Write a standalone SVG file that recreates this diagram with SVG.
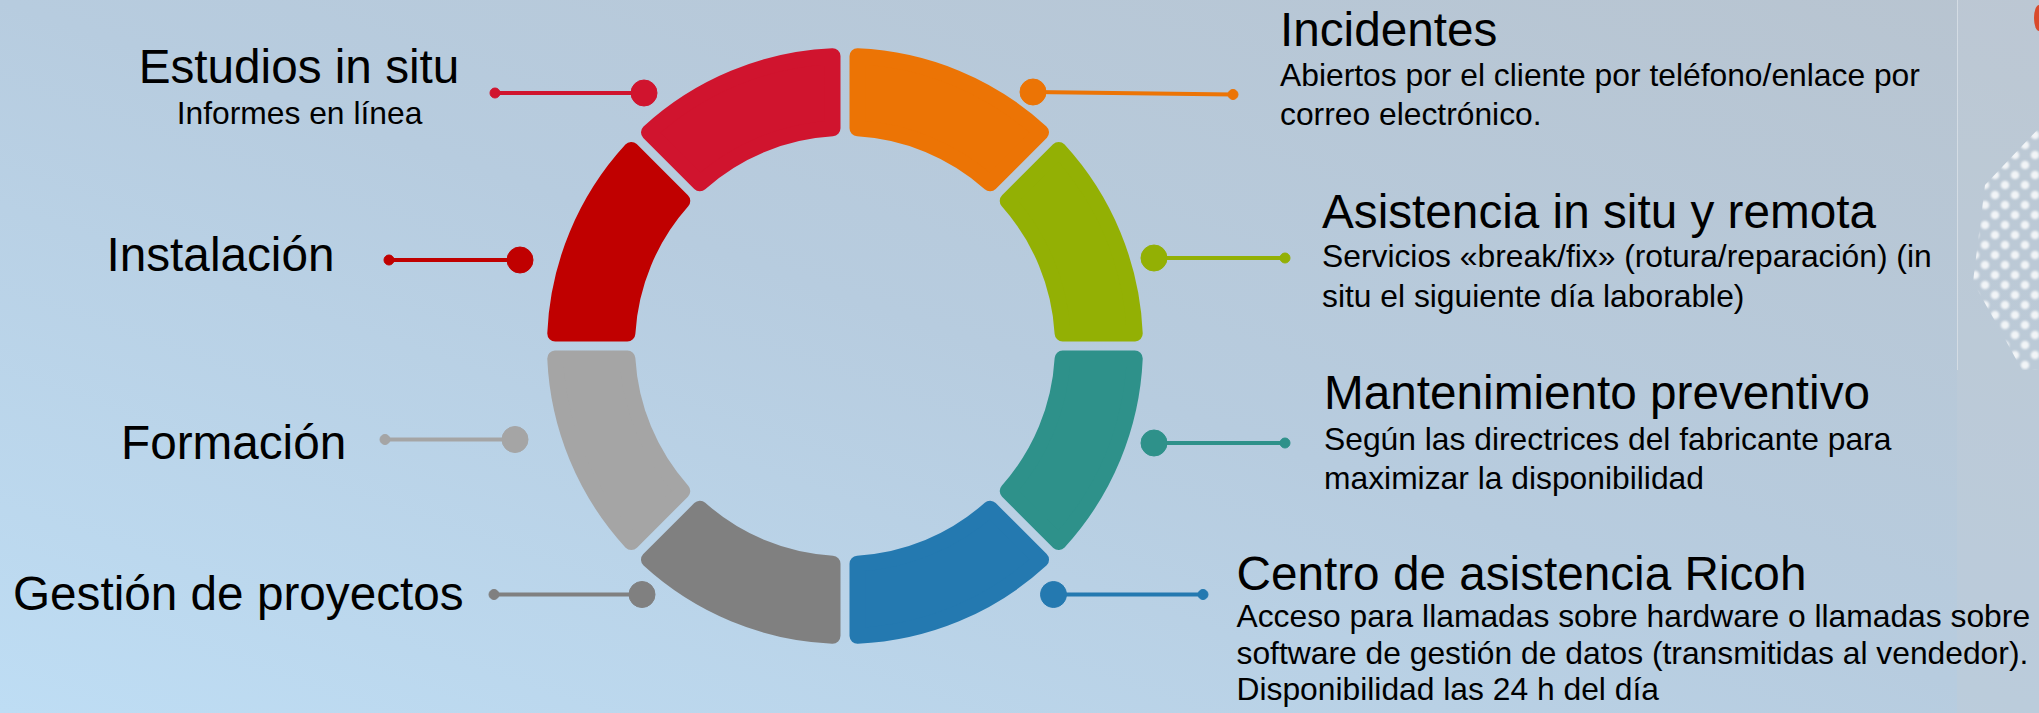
<svg xmlns="http://www.w3.org/2000/svg" xmlns:xlink="http://www.w3.org/1999/xlink" width="2039" height="713" viewBox="0 0 2039 713">
<style>
.seg{stroke-width:16;stroke-linejoin:round}
.title{font-family:"Liberation Sans",Arial,sans-serif;font-size:47.7px;fill:#000}
.desc{font-family:"Liberation Sans",Arial,sans-serif;font-size:31.8px;fill:#000}
.ln{stroke-width:4;fill:none}
</style>
<defs>
<linearGradient id="bg" x1="0" y1="1" x2="1" y2="0">
<stop offset="0" stop-color="#BEDDF4"/>
<stop offset="0.5" stop-color="#B7CCDF"/>
<stop offset="1" stop-color="#B8C4D0"/>
</linearGradient>
<pattern id="dots" width="20" height="20" patternUnits="userSpaceOnUse">
<circle cx="5" cy="5" r="4.3" fill="#fff"/>
<circle cx="15" cy="15" r="4.3" fill="#fff"/>
</pattern>
<filter id="soft"><feGaussianBlur stdDeviation="0.8"/></filter>
<clipPath id="dclip"><polygon points="2039,128 1985,185 1973,282 2000,330 2022,370 2039,370"/></clipPath>
<path id="seg" d="M857.5,128.36 L857.5,56.27 A290,290 0 0 1 1041.03,132.29 L990.05,183.27 A218,218 0 0 0 857.5,128.36 Z"/>
</defs>
<rect width="2039" height="713" fill="url(#bg)"/>
<rect x="1957" y="0" width="82" height="713" fill="#C2CDD8" opacity="0.45"/>
<line x1="1957.5" y1="0" x2="1957.5" y2="370" stroke="#D4DCE4" stroke-width="1"/>
<g clip-path="url(#dclip)"><rect x="1965" y="120" width="74" height="255" fill="url(#dots)" opacity="0.8" filter="url(#soft)"/></g>
<ellipse cx="2039" cy="18" rx="5" ry="13" fill="#D9492A"/>

<g id="connectors">
<g stroke="#D0142E" fill="#D0142E"><line class="ln" x1="495" y1="93" x2="644" y2="93"/><circle cx="495" cy="93" r="5"/><circle cx="644" cy="93" r="13"/></g>
<g stroke="#C00000" fill="#C00000"><line class="ln" x1="389" y1="260" x2="520" y2="260"/><circle cx="389" cy="260" r="5"/><circle cx="520" cy="260" r="13"/></g>
<g stroke="#A5A5A5" fill="#A5A5A5"><line class="ln" x1="385" y1="439.5" x2="515" y2="439.5"/><circle cx="385" cy="439.5" r="5"/><circle cx="515" cy="439.5" r="13"/></g>
<g stroke="#808080" fill="#808080"><line class="ln" x1="494" y1="594.5" x2="642" y2="594.5"/><circle cx="494" cy="594.5" r="5"/><circle cx="642" cy="594.5" r="13"/></g>
<g stroke="#EC7405" fill="#EC7405"><line class="ln" x1="1033" y1="92" x2="1233" y2="94.5"/><circle cx="1233" cy="94.5" r="5"/><circle cx="1033" cy="92" r="13"/></g>
<g stroke="#93B004" fill="#93B004"><line class="ln" x1="1154" y1="258" x2="1285" y2="258"/><circle cx="1285" cy="258" r="5"/><circle cx="1154" cy="258" r="13"/></g>
<g stroke="#2E918A" fill="#2E918A"><line class="ln" x1="1154" y1="443" x2="1285" y2="443"/><circle cx="1285" cy="443" r="5"/><circle cx="1154" cy="443" r="13"/></g>
<g stroke="#2479B0" fill="#2479B0"><line class="ln" x1="1053.5" y1="594.5" x2="1203" y2="594.5"/><circle cx="1203" cy="594.5" r="5"/><circle cx="1053.5" cy="594.5" r="13"/></g>
</g>

<g id="incidentes">
<use xlink:href="#seg" class="seg" fill="#EC7405" stroke="#EC7405"/>
<text class="title" x="1280" y="45.5">Incidentes</text>
<text class="desc" x="1280" y="86">Abiertos por el cliente por teléfono/enlace por</text>
<text class="desc" x="1280" y="124.5">correo electrónico.</text>
</g>
<g id="asistencia">
<use xlink:href="#seg" class="seg" fill="#93B004" stroke="#93B004" transform="rotate(45 845 346)"/>
<text class="title" x="1322" y="227.5">Asistencia in situ y remota</text>
<text class="desc" x="1322" y="267">Servicios «break/fix» (rotura/reparación) (in</text>
<text class="desc" x="1322" y="306.5">situ el siguiente día laborable)</text>
</g>
<g id="mantenimiento">
<use xlink:href="#seg" class="seg" fill="#2E918A" stroke="#2E918A" transform="rotate(90 845 346)"/>
<text class="title" x="1324" y="408.5">Mantenimiento preventivo</text>
<text class="desc" x="1324" y="449.5">Según las directrices del fabricante para</text>
<text class="desc" x="1324" y="488.5">maximizar la disponibilidad</text>
</g>
<g id="centro">
<use xlink:href="#seg" class="seg" fill="#2479B0" stroke="#2479B0" transform="rotate(135 845 346)"/>
<text class="title" x="1236.5" y="589.5">Centro de asistencia Ricoh</text>
<text class="desc" x="1236.5" y="627">Acceso para llamadas sobre hardware o llamadas sobre</text>
<text class="desc" x="1236.5" y="663.5">software de gestión de datos (transmitidas al vendedor).</text>
<text class="desc" x="1236.5" y="700">Disponibilidad las 24 h del día</text>
</g>
<g id="gestion">
<use xlink:href="#seg" class="seg" fill="#808080" stroke="#808080" transform="rotate(180 845 346)"/>
<text class="title" x="13" y="609.5">Gestión de proyectos</text>
</g>
<g id="formacion">
<use xlink:href="#seg" class="seg" fill="#A5A5A5" stroke="#A5A5A5" transform="rotate(225 845 346)"/>
<text class="title" x="121" y="459">Formación</text>
</g>
<g id="instalacion">
<use xlink:href="#seg" class="seg" fill="#C00000" stroke="#C00000" transform="rotate(270 845 346)"/>
<text class="title" x="106.5" y="270.5">Instalación</text>
</g>
<g id="estudios">
<use xlink:href="#seg" class="seg" fill="#D0142E" stroke="#D0142E" transform="rotate(315 845 346)"/>
<text class="title" x="299" y="83" text-anchor="middle">Estudios in situ</text>
<text class="desc" x="299.5" y="124" text-anchor="middle">Informes en línea</text>
</g>
</svg>
